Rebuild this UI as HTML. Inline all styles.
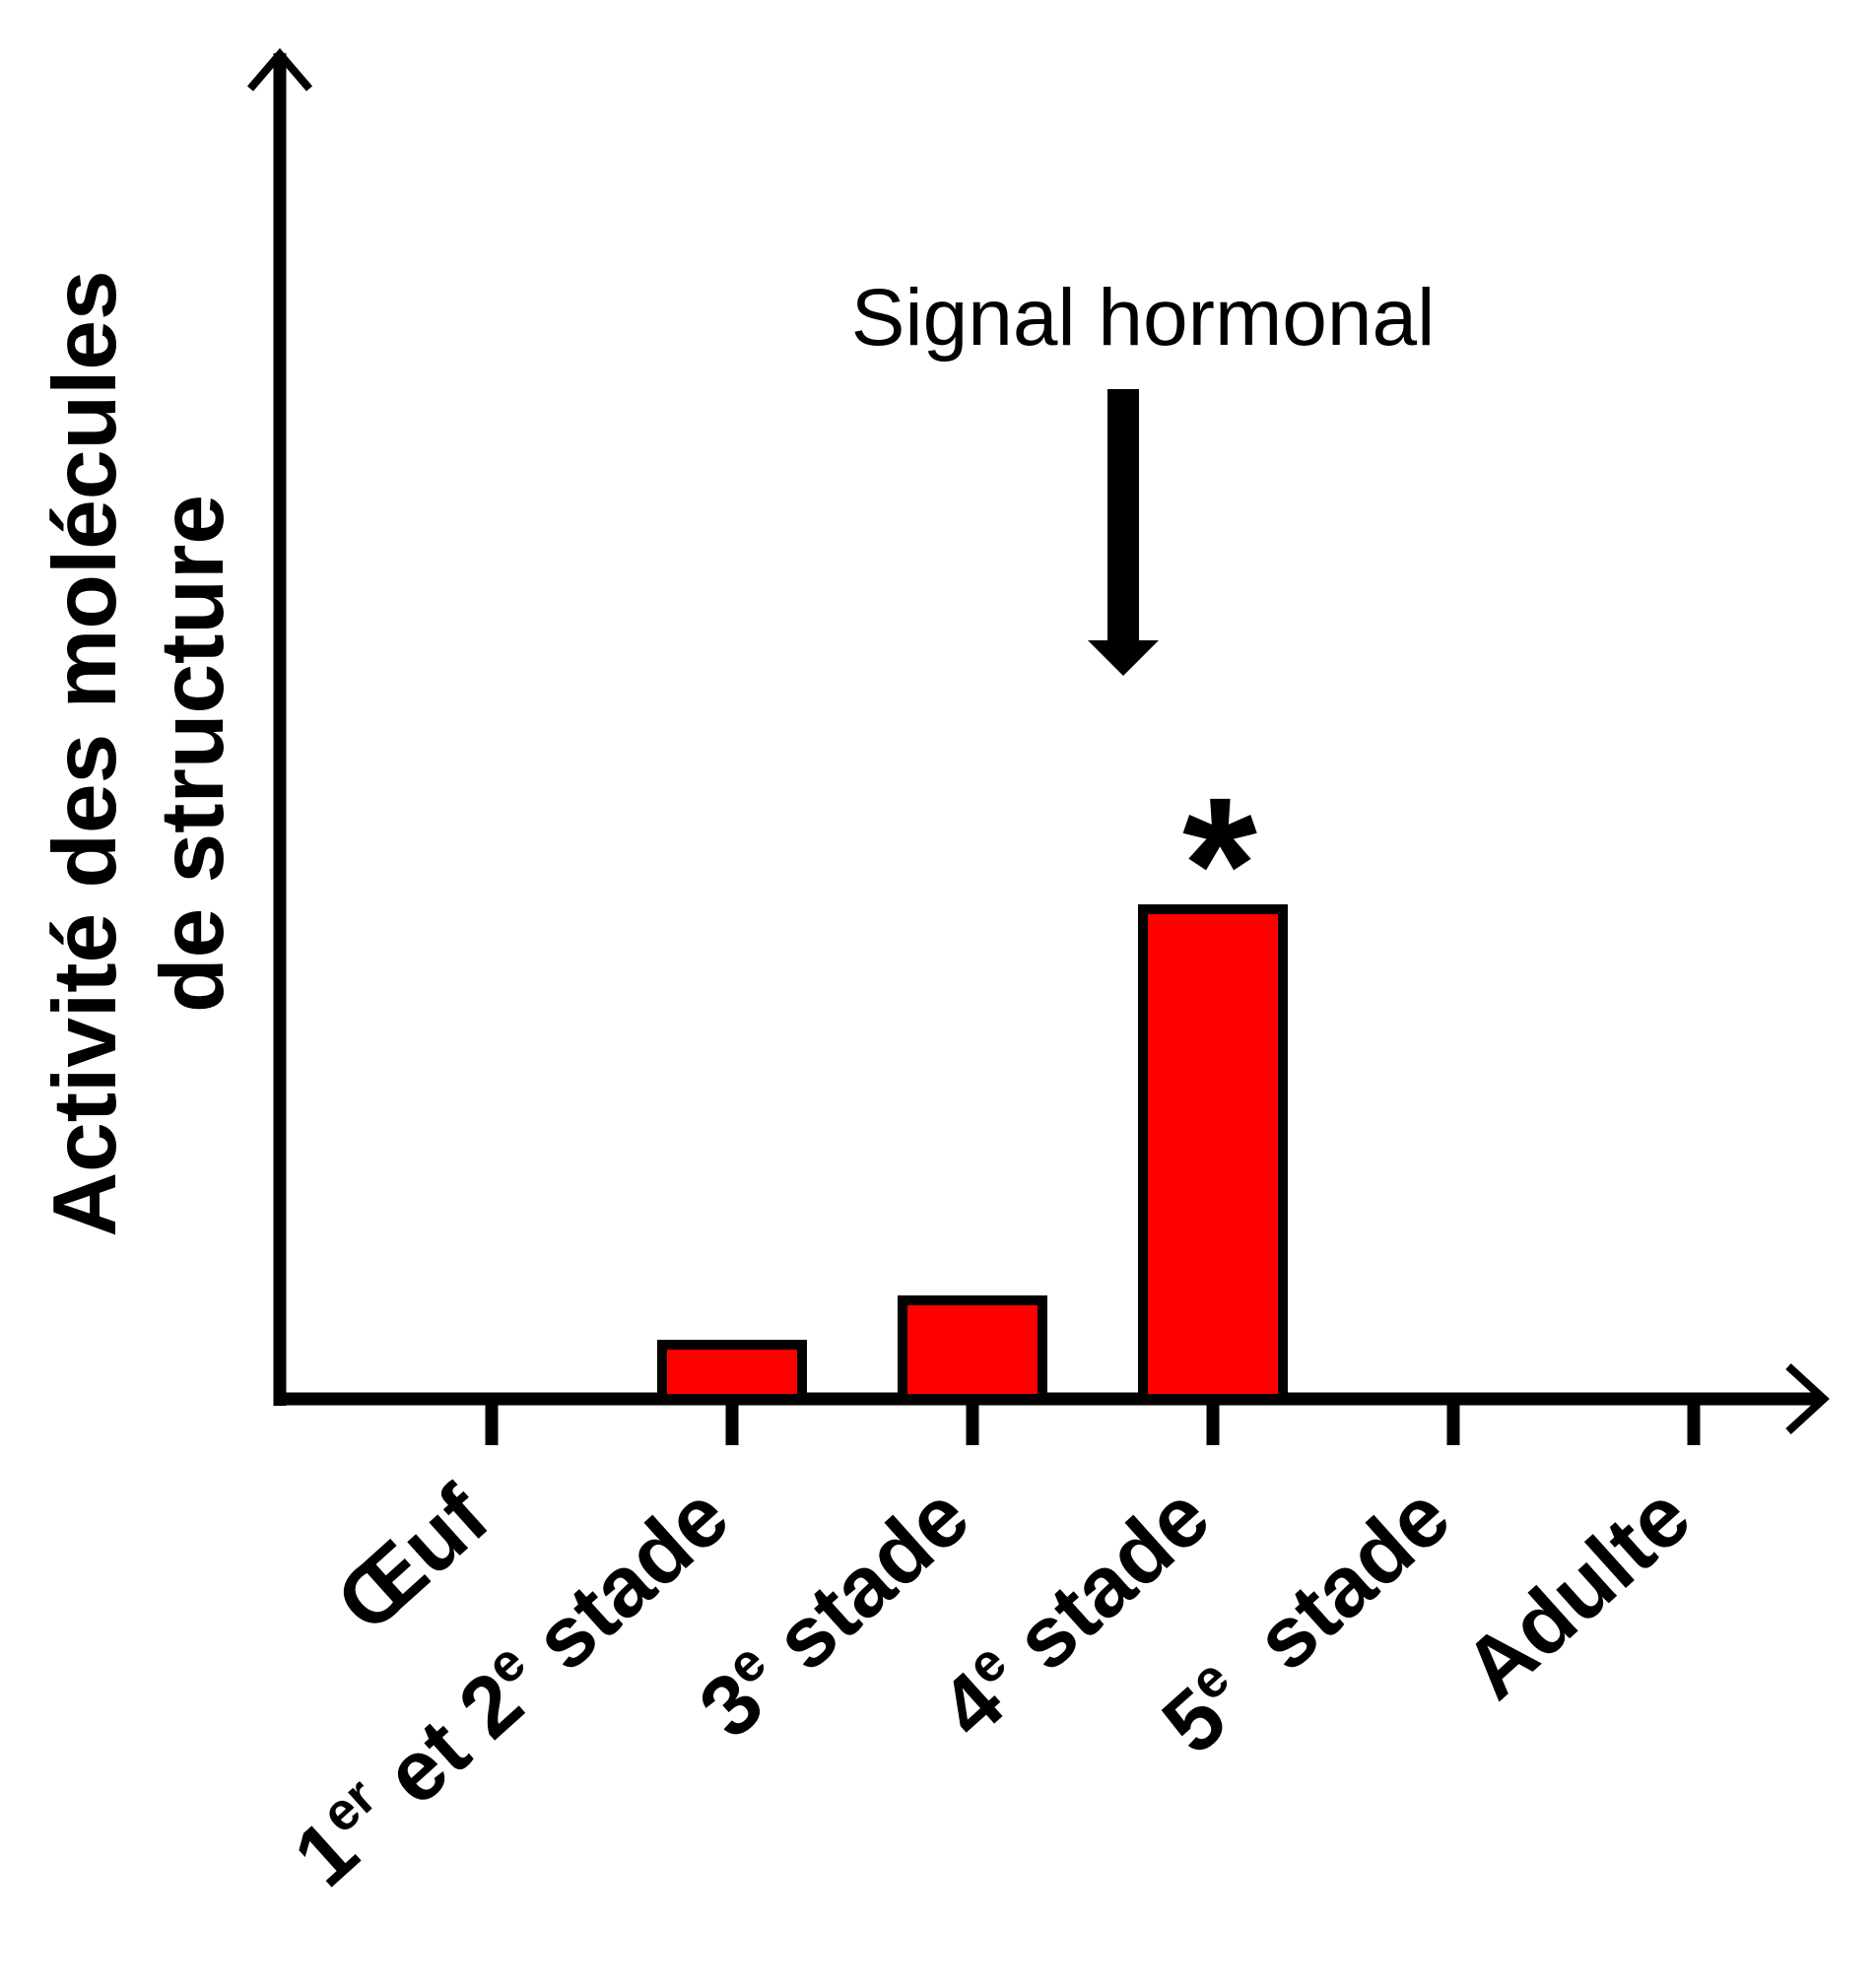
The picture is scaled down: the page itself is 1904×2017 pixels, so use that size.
<!DOCTYPE html>
<html><head><meta charset="utf-8"><style>
html,body{margin:0;padding:0;background:#fff;}
svg{display:block;}
text{font-family:"Liberation Sans",Arial,sans-serif;}
</style></head><body>
<svg id="chart" width="1904" height="2017" viewBox="0 0 1904 2017" xmlns="http://www.w3.org/2000/svg">
  <g id="axes">
    <line x1="284" y1="1427" x2="284" y2="54" stroke="#000" stroke-width="13"/>
    <polyline points="254,90 284,55 314,90" fill="none" stroke="#000" stroke-width="8"/>
    <line x1="278" y1="1420" x2="1850" y2="1420" stroke="#000" stroke-width="13"/>
    <polyline points="1815,1387 1851,1420 1815,1453" fill="none" stroke="#000" stroke-width="8"/>
  </g>
  <g id="bars"></g>
  <g id="ticks"></g>
  <g id="labels"></g>
  <text transform="translate(117,765) rotate(-90)" text-anchor="middle" font-size="91" font-weight="bold">Activité des molécules</text>
  <text transform="translate(226,765) rotate(-90)" text-anchor="middle" font-size="91" font-weight="bold">de structure</text>
  <text x="1160" y="350" text-anchor="middle" font-size="82">Signal hormonal</text>
  <g>
    <rect x="1124" y="395" width="32" height="258" fill="#000"/>
    <polygon points="1104,650 1176,650 1140,686" fill="#000"/>
  </g>
  <text id="star" x="1238" y="945" text-anchor="middle" font-size="195" font-weight="bold">*</text>
</svg>
<script>
const categories = ["Œuf", "1er et 2e stade", "3e stade", "4e stade", "5e stade", "Adulte"];
const values = [0, 55, 100, 497, 0, 0];
const labelParts = [
  [["Œuf", false]],
  [["1", false], ["er", true], [" et 2", false], ["e", true], [" stade", false]],
  [["3", false], ["e", true], [" stade", false]],
  [["4", false], ["e", true], [" stade", false]],
  [["5", false], ["e", true], ["\u00a0\u00a0stade", false]],
  [["Adulte", false]]
];
const NS = "http://www.w3.org/2000/svg";
const x0 = 499, step = 244;
function xScale(i){ return x0 + i * step; }
const yBase = 1420;
function yScale(v){ return yBase - v; }
const barW = 142;
const gB = document.getElementById('bars');
const gT = document.getElementById('ticks');
const gL = document.getElementById('labels');
categories.forEach((c, i) => {
  const cx = xScale(i);
  if (values[i] > 0) {
    const r = document.createElementNS(NS, 'rect');
    
    
    r.setAttribute('x', cx - barW / 2);
    r.setAttribute('y', yScale(values[i]));
    r.setAttribute('width', barW);
    r.setAttribute('height', values[i]);
    r.setAttribute('fill', '#ff0000');
    r.setAttribute('stroke', '#000');
    r.setAttribute('stroke-width', '10');
    gB.appendChild(r);
  }
  const t = document.createElementNS(NS, 'rect');
  
  
  t.setAttribute('x', cx - 6.5);
  t.setAttribute('y', yBase);
  t.setAttribute('width', 13);
  t.setAttribute('height', 47);
  t.setAttribute('fill', '#000');
  gT.appendChild(t);
  const tx = document.createElementNS(NS, 'text');
  
  
  tx.setAttribute('transform', 'translate(' + (cx + 2) + ',1548) rotate(-42)');
  tx.setAttribute('text-anchor', 'end');
  tx.setAttribute('font-size', '87');
  tx.setAttribute('font-weight', 'bold');
  let prevSup = false;
  labelParts[i].forEach(p => {
    const s = document.createElementNS(NS, 'tspan');
    s.textContent = p[0];
    if (p[1]) { s.setAttribute('font-size', '54'); s.setAttribute('dy', '-32'); prevSup = true; }
    else if (prevSup) { s.setAttribute('dy', '32'); prevSup = false; }
    tx.appendChild(s);
  });
  gL.appendChild(tx);
});
</script>
</body></html>
